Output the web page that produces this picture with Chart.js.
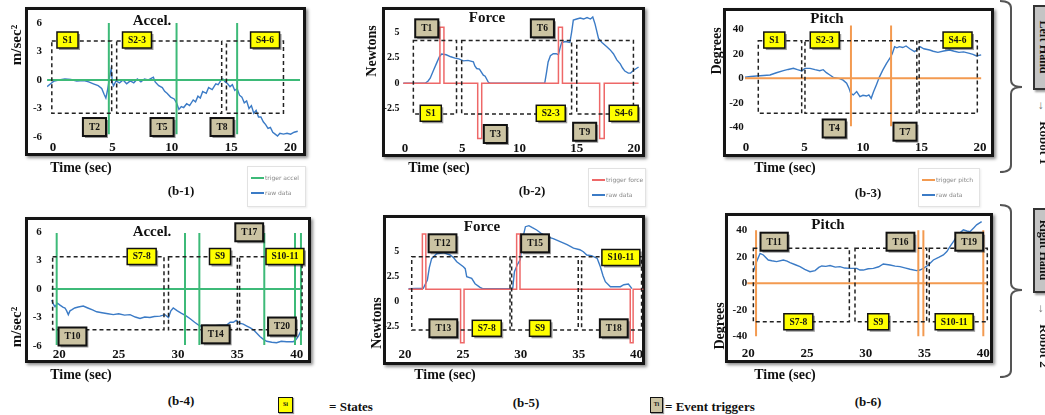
<!DOCTYPE html>
<html>
<head>
<meta charset="utf-8">
<title>Accel / Force / Pitch</title>
<script src="https://cdn.jsdelivr.net/npm/chart.js@4.4.1/dist/chart.umd.min.js"></script>
<style>
  html, body { margin: 0; padding: 0; background: #fff; }
  body { position: relative; width: 1045px; height: 415px; overflow: hidden; font-family: "Liberation Serif", "Times New Roman", serif; color: #111; }
  canvas { position: absolute; }
  .frame { position: absolute; box-sizing: border-box; border: 3px solid #151515; box-shadow: 2px 2px 3px rgba(0,0,0,0.45); }
  .t { position: absolute; font-weight: bold; white-space: nowrap; line-height: 1; }
  .legend { position: absolute; box-sizing: border-box; border: 1px solid #e2e2e2; background: #fff; box-shadow: 1px 1px 2px rgba(0,0,0,0.08); }
  .legend div { position: absolute; left: 3px; font: 6px "DejaVu Sans", sans-serif; color: #888; white-space: nowrap; line-height: 8px; }
  .legend span { display: inline-block; width: 13px; height: 2px; vertical-align: middle; margin-right: 1px; }
  .hand { position: absolute; box-sizing: border-box; background: #c4c4c4; border: 2px solid #333; box-shadow: 2px 2px 2px rgba(0,0,0,0.4); }
  .key { position: absolute; box-sizing: border-box; border: 1.5px solid #111; font: bold 6px "Liberation Serif", serif; text-align: center; box-shadow: 1px 1px 1px rgba(0,0,0,0.4); }
</style>
</head>
<body>
<svg width="1045" height="415" style="position:absolute;left:0;top:0" fill="none" stroke="#555" stroke-width="2">
  <path d="M1000,1 Q1011,1 1011,8 L1011,80 Q1011,87 1022,87 Q1011,87 1011,94 L1011,165 Q1011,172 1000,172"/>
  <path d="M1000,205 Q1011,205 1011,212 L1011,283 Q1011,290 1022,290 Q1011,290 1011,297 L1011,370 Q1011,377 1000,377"/>
</svg>
<script>
// tick labels
const timeTicksLeft = [0, 5, 10, 15, 20];
const timeTicksRight = [20, 25, 30, 35, 40];
const accelTicks = [-6, -3, 0, 3, 6];
const forceTicks = [-2.5, 0, 2.5, 5];
const pitchTicks = [-40, -20, 0, 20, 40];

// raw data [time, value]
const accelLeft = [[-0.5,-0.7],[-0.2,-0.4],[0.1,-0.1],[0.5,0],[1.0,0.1],[1.5,0.05],[2.0,-0.1],[2.6,-0.05],[3.0,-0.2],[3.4,-0.4],[3.8,-0.6],[4.1,-0.9],[4.3,-1.5],[4.45,-1.9],[4.6,-1.0],[4.75,0.2],[4.9,1.2],[5.0,-0.3],[5.1,-0.6],[5.3,-0.1],[5.6,-0.3],[5.9,0.0],[6.2,-0.4],[6.5,-0.1],[6.8,-0.3],[7.1,0.1],[7.4,-0.2],[7.7,0.1],[8.0,0.0],[8.3,0.2],[8.45,0.3],[8.6,-0.2],[8.9,-0.6],[9.2,-0.8],[9.4,-1.2],[9.6,-1.4],[9.9,-1.8],[10.2,-2.0],[10.4,-2.4],[10.6,-3.1],[10.8,-2.8],[11.0,-2.9],[11.25,-2.5],[11.5,-2.7],[11.8,-2.1],[12.0,-2.3],[12.2,-1.7],[12.4,-1.9],[12.6,-1.2],[12.9,-1.4],[13.1,-0.8],[13.4,-1.0],[13.7,-0.4],[13.9,-0.5],[14.1,-0.1],[14.3,0.1],[14.5,-0.2],[14.7,-0.4],[14.9,-0.7],[15.1,-0.5],[15.3,-1.1],[15.5,-0.9],[15.7,-1.6],[15.9,-1.8],[16.1,-2.4],[16.3,-2.2],[16.5,-3.0],[16.7,-2.7],[16.9,-3.5],[17.1,-3.2],[17.3,-3.9],[17.5,-3.9],[17.7,-4.4],[17.9,-4.7],[18.1,-5.1],[18.3,-5.0],[18.5,-5.5],[18.7,-5.7],[18.9,-5.9],[19.1,-5.6],[19.4,-5.7],[19.7,-5.6],[20.0,-5.7],[20.3,-5.5],[20.6,-5.4]];
const forceLeft = [[-0.15,0],[1.75,0],[2.0,0.2],[2.2,0.5],[2.5,1.3],[2.77,2.0],[3.0,2.6],[3.2,2.87],[3.6,2.8],[4.0,2.6],[4.37,2.47],[4.7,2.4],[5.1,2.2],[5.5,2.25],[5.97,2.1],[6.1,1.7],[6.26,1.45],[6.5,1.4],[6.84,0.8],[7.0,0.7],[7.28,0.1],[7.5,0],[12.2,0],[12.35,1.0],[12.5,2.1],[12.7,2.7],[12.95,2.9],[13.2,2.9],[13.4,2.8],[13.55,3.5],[13.68,4.0],[14.0,4.1],[14.4,4.0],[14.55,5.0],[14.7,6.2],[15.0,6.3],[15.3,6.4],[15.6,6.3],[15.9,6.45],[16.2,6.3],[16.4,6.5],[16.6,5.8],[16.9,4.4],[17.2,4.0],[17.6,3.6],[17.9,3.3],[18.2,2.9],[18.5,2.3],[18.8,1.9],[19.0,1.5],[19.2,1.2],[19.5,1.0],[19.7,1.0],[20.0,1.3],[20.4,1.6]];
const pitchLeft = [[-0.09,0.8],[0.4,1.5],[0.91,1.9],[1.5,2.3],[2.05,2.7],[2.6,4.5],[3.2,6.2],[3.6,7.2],[4.05,8.1],[4.4,7.0],[4.76,6.0],[5.04,8.1],[5.47,8.1],[5.9,7.0],[6.3,6.2],[6.6,7.0],[6.87,4.6],[7.2,2.5],[7.46,0.8],[8.0,-0.3],[8.3,-1.5],[8.6,-4],[8.8,-8],[8.95,-12.2],[9.17,-13.5],[9.46,-10.8],[9.74,-14.9],[10.0,-13.8],[10.3,-14.4],[10.5,-13.5],[10.7,-16.3],[10.9,-11],[11.14,-5.4],[11.4,1],[11.7,6.8],[12.0,12],[12.3,16.3],[12.5,20],[12.7,25.7],[12.9,24.8],[13.1,25.7],[13.4,25],[13.68,26.3],[14.0,24],[14.4,21.7],[14.6,23],[14.87,25.7],[15.2,24],[15.7,23],[16.0,22],[16.4,21.1],[16.9,22.2],[17.4,23],[17.8,22],[18.2,21.1],[18.6,21.5],[19.1,20.3],[19.4,19.5],[19.7,18.2],[20.1,19]];
const accelRight = [[19.36,-1.16],[19.5,-1.6],[19.64,-1.86],[19.85,-1.5],[20.06,-1.7],[20.3,-1.9],[20.48,-2.0],[20.62,-2.3],[20.76,-2.7],[20.9,-2.3],[21.04,-2.2],[21.3,-2.0],[21.6,-1.9],[22.02,-1.8],[22.4,-2.0],[22.8,-2.2],[23.15,-2.4],[23.6,-2.5],[24.1,-2.6],[24.55,-2.7],[25.0,-2.6],[25.5,-2.75],[25.96,-2.7],[26.4,-2.95],[26.8,-3.1],[27.2,-2.95],[27.64,-3.0],[28.0,-2.9],[28.48,-2.85],[28.9,-2.7],[29.2,-3.0],[29.4,-2.3],[29.6,-2.0],[29.95,-2.3],[30.3,-2.56],[30.65,-2.8],[31.0,-3.1],[31.4,-3.5],[31.85,-3.9],[32.4,-3.85],[32.97,-3.9],[33.5,-3.8],[34.1,-3.8],[34.4,-3.5],[34.66,-3.5],[34.9,-3.3],[35.2,-3.6],[35.5,-3.7],[35.8,-3.9],[36.1,-4.1],[36.35,-4.3],[36.6,-4.6],[36.9,-5.0],[37.2,-5.3],[37.47,-5.5],[37.9,-5.6],[38.3,-5.65],[38.7,-5.5],[39.15,-5.55],[39.7,-5.55],[39.9,-5.4],[40.13,-5.0],[40.4,-4.3]];
const forceRight = [[20.3,1.3],[21.58,1.34],[21.93,2.17],[22.1,3.4],[22.3,4.3],[22.74,4.8],[23.31,4.9],[23.89,4.67],[24.2,4.4],[24.47,4.0],[25.04,3.5],[25.2,3.3],[25.33,2.5],[25.76,2.33],[26.05,1.8],[26.48,1.43],[26.7,1.3],[29.3,1.3],[29.45,3.0],[29.7,3.7],[29.95,4.2],[30.2,6.5],[30.4,7.5],[30.7,7.6],[31.0,7.4],[31.37,7.17],[31.8,6.8],[32.23,6.5],[32.8,6.3],[33.4,6.0],[34.0,5.7],[34.55,5.35],[35.1,5.2],[35.4,5.0],[35.7,4.67],[36.1,4.6],[36.6,4.33],[36.87,3.5],[37.1,2.6],[37.3,2.0],[37.74,1.5],[38.2,1.5],[38.6,1.5],[38.9,1.7],[39.29,1.77],[39.6,1.3]];
const pitchRight = [[20.43,8.8],[20.71,16.4],[21.0,22.6],[21.28,21.4],[21.7,17.6],[22.0,17.0],[22.41,16.4],[22.98,17.6],[23.3,16.8],[23.55,15.6],[24.0,14.0],[24.4,12.6],[24.8,10.5],[25.25,8.8],[25.68,9.6],[26.0,12.0],[26.25,13.1],[26.6,12.8],[26.96,13.4],[27.4,12.2],[27.8,12.6],[28.2,11.5],[28.65,11.3],[29.23,11.3],[29.5,10.0],[29.79,10.0],[30.2,11.0],[30.64,11.3],[31.1,12.5],[31.49,14.6],[32.06,13.8],[32.5,13.0],[32.91,12.6],[33.4,11.5],[33.77,10.6],[34.33,9.6],[34.6,10.0],[34.9,11.3],[35.32,13.8],[35.75,17.6],[36.2,19.5],[36.6,21.4],[36.9,24.0],[37.16,27.7],[37.5,32.0],[37.73,35.3],[38.0,38.0],[38.3,40.3],[38.6,39.5],[38.86,39.0],[39.2,42.0],[39.43,44.1],[39.86,46.6]];

// triggers: vertical line times, force pulses [start, end, height]
const accelTrigLeft = [4.7, 10.4, 15.5];
const accelTrigRight = [19.78, 30.59, 31.8, 37.27, 39.86, 40.36];
const pitchTrigLeft = [8.97, 12.4];
const pitchTrigRight = [20.66, 34.47, 34.9, 40.0];
const forcePulsesLeft = [[3.05, 3.4, 5.5], [6.35, 6.7, -5.4], [13.4, 13.75, 5.5], [17.0, 17.4, -5.4]];
const forcePulsesRight = [[21.5, 21.8, 6.77], [24.8, 25.1, -4.1], [29.64, 29.93, 6.77], [39.45, 39.7, -4.1]];

// state windows [start, end]
const statesB1 = [[-0.1, 4.94], [5.36, 14.2], [14.6, 19.4]];
const statesB2 = [[0.73, 4.5], [4.95, 14.55], [15.0, 19.95]];
const statesB3 = [[1.05, 4.76], [5.04, 14.6], [14.8, 19.77]];
const statesB4 = [[19.44, 28.82], [29.2, 35.0], [35.19, 40.45]];
const statesB5 = [[20.58, 29.07], [29.21, 34.96], [35.25, 40.43]];
const statesB6 = [[20.43, 28.6], [29.08, 35.18], [35.4, 40.34]];

// tags [text, time, value]
const tagsB1 = [['S1',1.22,4.21],['S2-3',7.07,4.21],['S4-6',17.85,4.21],['T2',3.49,-4.95],['T5',9.18,-4.95],['T8',14.23,-4.95]];
const tagsB2 = [['T1',1.9,5.39],['T6',12.0,5.39],['S1',2.25,-2.94],['S2-3',12.73,-2.94],['S4-6',19.1,-2.94],['T3',7.89,-4.97],['T9',15.69,-4.75]];
const tagsB3 = [['S1',2.42,31.1],['S2-3',6.73,31.1],['S4-6',18.08,31.1],['T4',7.54,-40.8],['T7',13.59,-43.4]];
const tagsB4 = [['S7-8',26.94,3.42],['S9',33.54,3.42],['S10-11',39.01,3.42],['T10',21.11,-5.0],['T14',33.18,-4.77],['T17',36.0,5.97],['T20',38.76,-3.95]];
const tagsB5 = [['T12',23.24,5.84],['T15',31.23,5.84],['S10-11',38.64,4.42],['T13',23.31,-2.66],['S7-8',27.06,-2.66],['S9',31.66,-2.66],['T18',38.03,-2.66]];
const tagsB6 = [['T11',22.2,31.4],['T16',32.95,31.4],['T19',38.8,31.4],['S7-8',24.26,-29.0],['S9',31.06,-29.0],['S10-11',37.52,-29.0]];

const rawBlue = '#3b7bc6';
const green = '#3dba78';
const red = '#ee6868';
const orange = '#f39a50';
const serif = "'Liberation Serif', serif";

function crossLines(x0, x1, base, times, top, bottom) {
    const pts = [{x: x0, y: base}, {x: x1, y: base}];
    times.forEach(t => { pts.push({x: t, y: null}, {x: t, y: top}, {x: t, y: bottom}); });
    return pts;
}

function pulseLine(x0, x1, base, pulses) {
    const pts = [{x: x0, y: base}];
    pulses.forEach(([a, b, h]) => { pts.push({x: a, y: base}, {x: a, y: h}, {x: b, y: h}, {x: b, y: base}); });
    pts.push({x: x1, y: base});
    return pts;
}

const panels = [
    { canvas: [0, 0, 340, 185], area: [47.06, 20.15, 300.1, 139.85], frame: [25, 7, 306, 156],
      xMin: -0.5, xMax: 20.8, yMin: -6.3, yMax: 6.3, xTicks: timeTicksLeft, yTicks: accelTicks, xPad: 0, yPad: 5, yFont: 11,
      raw: accelLeft, trig: crossLines(-0.5, 20.8, 0, accelTrigLeft, 6, -5.7), trigColor: green, trigWidth: 2,
      states: statesB1, stTop: 4.1, stBottom: -3.5, tags: tagsB1 },
    { canvas: [355, 0, 315, 185], area: [400.42, 11.9, 640.87, 140.42], frame: [382, 7, 645, 157],
      xMin: -0.4, xMax: 20.6, yMin: -5.6, yMax: 7.0, xTicks: timeTicksLeft, yTicks: forceTicks, xPad: 0, yPad: 1, yFont: 10,
      raw: forceLeft, trig: pulseLine(-0.15, 20.4, 0, forcePulsesLeft), trigColor: red, trigWidth: 1.5,
      states: statesB2, stTop: 4.2, stBottom: -3.0, tags: tagsB2 },
    { canvas: [695, 0, 310, 185], area: [744.83, 19.26, 987.02, 133.65], frame: [723, 8, 994, 157],
      xMin: -0.1, xMax: 20.6, yMin: -45, yMax: 48, xTicks: timeTicksLeft, yTicks: pitchTicks, xPad: 6, yPad: 1, yFont: 11,
      raw: pitchLeft, trig: crossLines(-0.09, 20.1, 0, pitchTrigLeft, 43, -39), trigColor: orange, trigWidth: 2,
      states: statesB3, stTop: 30.6, stBottom: -28.5, tags: tagsB3 },
    { canvas: [0, 205, 340, 180], area: [49.8, 228.2, 305.0, 346.95], frame: [25, 217, 311, 363],
      xMin: 19.2, xMax: 40.7, yMin: -6.1, yMax: 6.4, xTicks: timeTicksRight, yTicks: accelTicks, xPad: 0, yPad: 8, yFont: 11,
      raw: accelRight, trig: crossLines(19.36, 40.45, 0, accelTrigRight, 5.9, -5.9), trigColor: green, trigWidth: 2,
      states: statesB4, stTop: 3.4, stBottom: -4.3, tags: tagsB4 },
    { canvas: [355, 205, 315, 180], area: [400.37, 222.7, 643.55, 346.7], frame: [383, 215, 645, 365],
      xMin: 19.6, xMax: 40.6, yMin: -4.5, yMax: 7.9, xTicks: timeTicksRight, yTicks: forceTicks, xPad: 0, yPad: 1, yFont: 10,
      raw: forceRight, trig: pulseLine(20.3, 40.6, 1.25, forcePulsesRight), trigColor: red, trigWidth: 1.5,
      states: statesB5, stTop: 4.5, stBottom: -2.83, tags: tagsB5 },
    { canvas: [695, 205, 310, 180], area: [747.13, 219.7, 988.0, 340.3], frame: [725, 213, 993, 363],
      xMin: 19.9, xMax: 40.4, yMin: -43, yMax: 48, xTicks: timeTicksRight, yTicks: pitchTicks, xPad: 6, yPad: 0, yFont: 11,
      raw: pitchRight, trig: crossLines(19.9, 40.4, 0, pitchTrigRight, 40, -40), trigColor: orange, trigWidth: 2,
      states: statesB6, stTop: 26.4, stBottom: -29, tags: tagsB6 }
];

function drawMarks(chart, p) {
    const {ctx, scales: {x, y}} = chart;
    ctx.save();
    // dashed state windows
    ctx.setLineDash([4, 3]);
    ctx.lineWidth = 1.5;
    ctx.strokeStyle = '#222';
    const yt = y.getPixelForValue(p.stTop), yb = y.getPixelForValue(p.stBottom);
    p.states.forEach(([a, b]) => {
        const x0 = x.getPixelForValue(a), x1 = x.getPixelForValue(b);
        ctx.strokeRect(x0, yt, x1 - x0, yb - yt);
    });
    ctx.setLineDash([]);
    // state / trigger tags
    ctx.font = 'bold 9.5px ' + serif;
    ctx.textAlign = 'center';
    ctx.textBaseline = 'middle';
    p.tags.forEach(([txt, t, v]) => {
        const isState = txt[0] === 'S';
        const cx = x.getPixelForValue(t), cy = y.getPixelForValue(v);
        const w = ctx.measureText(txt).width + (isState ? 11 : 12);
        const h = isState ? 16 : 18;
        ctx.fillStyle = 'rgba(0,0,0,0.4)';
        ctx.fillRect(cx - w / 2 + 2, cy - h / 2 + 2, w, h);
        ctx.fillStyle = isState ? '#ffff00' : '#cbc3a2';
        ctx.fillRect(cx - w / 2, cy - h / 2, w, h);
        ctx.lineWidth = isState ? 1.5 : 2;
        ctx.strokeStyle = '#111';
        ctx.strokeRect(cx - w / 2, cy - h / 2, w, h);
        ctx.fillStyle = '#111';
        ctx.fillText(txt, cx, cy + 0.5);
    });
    ctx.restore();
}

function makePanel(p) {
    const [cl, ct, cw, ch] = p.canvas;
    const [L, T, R, B] = p.area;
    const fr = document.createElement('div');
    fr.className = 'frame';
    fr.style.left = p.frame[0] + 'px';
    fr.style.top = p.frame[1] + 'px';
    fr.style.width = (p.frame[2] - p.frame[0]) + 'px';
    fr.style.height = (p.frame[3] - p.frame[1]) + 'px';
    document.body.appendChild(fr);

    const cv = document.createElement('canvas');
    cv.width = cw; cv.height = ch;
    cv.style.left = cl + 'px'; cv.style.top = ct + 'px';
    document.body.appendChild(cv);

    const tickFont = size => ({family: serif, weight: 'bold', size: size});
    new Chart(cv.getContext('2d'), {
        type: 'line',
        data: {
            datasets: [{
                data: p.trig,
                borderColor: p.trigColor,
                borderWidth: p.trigWidth,
                pointRadius: 0,
                tension: 0
            }, {
                data: p.raw.map(([t, v]) => ({x: t, y: v})),
                borderColor: rawBlue,
                borderWidth: 1.4,
                pointRadius: 0,
                tension: 0
            }]
        },
        options: {
            responsive: false,
            animation: false,
            layout: { padding: { left: 0, bottom: 0, top: T - ct, right: cl + cw - R } },
            plugins: { legend: { display: false }, tooltip: { enabled: false } },
            scales: {
                x: {
                    type: 'linear', min: p.xMin, max: p.xMax,
                    afterBuildTicks: s => { s.ticks = p.xTicks.map(v => ({value: v})); },
                    afterFit: s => { s.height = ct + ch - B; },
                    grid: { display: false, drawTicks: false }, border: { display: false },
                    ticks: { autoSkip: false, maxRotation: 0, padding: p.xPad, color: '#111', font: tickFont(13), callback: v => String(v) }
                },
                y: {
                    type: 'linear', min: p.yMin, max: p.yMax,
                    afterBuildTicks: s => { s.ticks = p.yTicks.map(v => ({value: v})); },
                    afterFit: s => { s.width = L - cl; },
                    grid: { display: false, drawTicks: false }, border: { display: false },
                    ticks: { autoSkip: false, padding: p.yPad, color: '#111', font: tickFont(p.yFont), callback: v => String(v) }
                }
            }
        },
        plugins: [{ id: 'marks', afterDatasetsDraw: chart => drawMarks(chart, p) }]
    });
}

panels.forEach(makePanel);

function text(str, cx, cy, size, rot) {
    const d = document.createElement('div');
    d.className = 't';
    d.textContent = str;
    d.style.left = cx + 'px';
    d.style.top = cy + 'px';
    d.style.fontSize = size + 'px';
    d.style.transform = 'translate(-50%,-50%)' + (rot ? ' rotate(' + rot + 'deg)' : '');
    document.body.appendChild(d);
    return d;
}

// chart titles
text('Accel.', 152, 20, 15);
text('Force', 487, 17, 15);
text('Pitch', 827, 18, 15);
text('Accel.', 152, 231, 15);
text('Force', 482, 226, 15);
text('Pitch', 828, 224, 15);

// axis titles
text('m/sec²', 16, 45, 15, -90);
text('Newtons', 372, 51, 14, -90);
text('Degrees', 717, 51, 14, -90);
text('m/sec²', 16, 327, 15, -90);
text('Newtons', 377, 323, 14, -90);
text('Degrees', 720, 326, 14, -90);
[[81, 168], [439, 168], [785, 168], [81, 375], [445, 375], [785, 375]].forEach(([x, y]) => text('Time (sec)', x, y, 14));

// captions
text('(b-1)', 181, 190, 13);
text('(b-2)', 532, 190, 13);
text('(b-3)', 868, 192, 13);
text('(b-4)', 181, 400, 13);
text('(b-5)', 526, 402, 13);
text('(b-6)', 868, 401, 13);

// small legends
function legend(x, y, w, h, rows) {
    const box = document.createElement('div');
    box.className = 'legend';
    box.style.left = x + 'px'; box.style.top = y + 'px';
    box.style.width = w + 'px'; box.style.height = h + 'px';
    rows.forEach(([label, color], i) => {
        const r = document.createElement('div');
        r.style.top = (i === 0 ? 7 : 22) + 'px';
        r.innerHTML = '<span style="background:' + color + '"></span>' + label;
        box.appendChild(r);
    });
    document.body.appendChild(box);
}
legend(247, 166, 59, 41, [['triger accel', green], ['raw data', rawBlue]]);
legend(588, 168, 58, 39, [['trigger force', red], ['raw data', rawBlue]]);
legend(918, 168, 62, 39, [['trigger pitch', orange], ['raw data', rawBlue]]);

// key at the bottom
function keyBox(x, y, w, h, bg, label) {
    const k = document.createElement('div');
    k.className = 'key';
    k.style.left = x + 'px'; k.style.top = y + 'px';
    k.style.width = w + 'px'; k.style.height = h + 'px';
    k.style.lineHeight = (h - 3) + 'px';
    k.style.background = bg;
    k.textContent = label;
    document.body.appendChild(k);
}
keyBox(278, 397, 15, 16, '#ffff00', 'Si');
keyBox(650, 397, 13, 16, '#cbc3a2', 'Ti');
const st = text('= States', 329, 406, 13); st.style.transform = 'translateY(-50%)';
const ev = text('= Event triggers', 665, 406, 13); ev.style.transform = 'translateY(-50%)';

// robot hands on the right
function hand(top, label, robot) {
    const h = document.createElement('div');
    h.className = 'hand';
    h.style.left = '1033px'; h.style.top = top + 'px';
    h.style.width = '22px'; h.style.height = '85px';
    document.body.appendChild(h);
    text(label, 1044, top + 42, 12, 90);
    const a = text('→', 1043, top + 101, 12, 90);
    a.style.color = '#777';
    text(robot, 1044, top + 138, 13, 90);
}
hand(5, 'Left Hand', 'Robot 1');
hand(208, 'Right Hand', 'Robot 2');
</script>
</body>
</html>
